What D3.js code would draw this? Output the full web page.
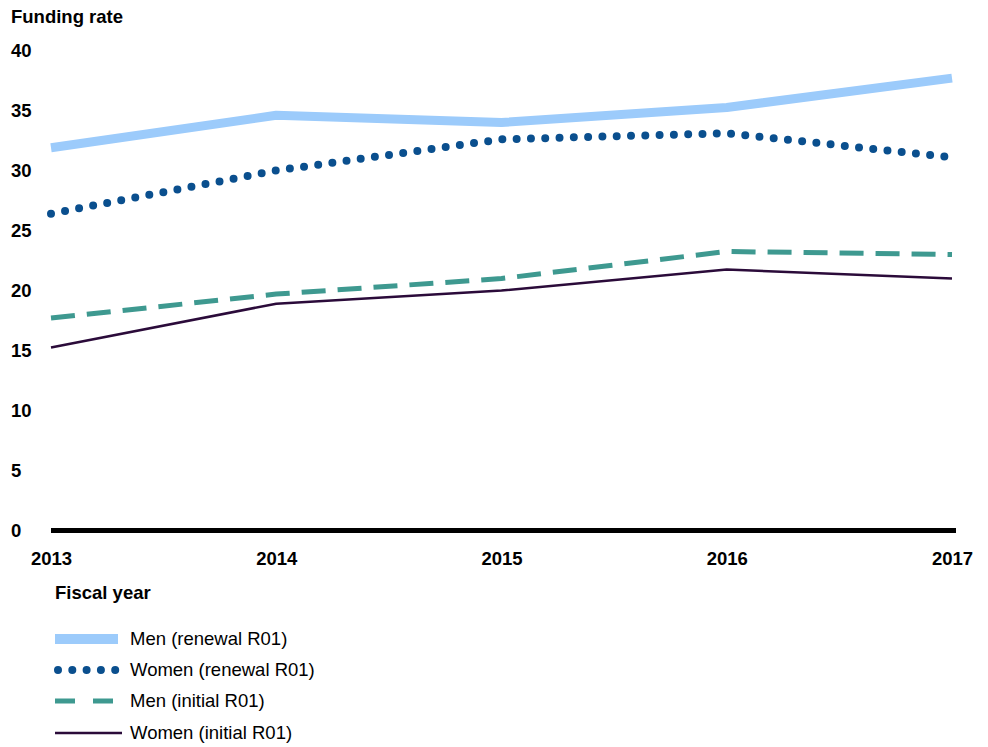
<!DOCTYPE html>
<html>
<head>
<meta charset="utf-8">
<script src="https://cdn.jsdelivr.net/npm/d3@7"></script>
<style>
  body { margin: 0; background: #fff; }
  svg text { font-family: "Liberation Sans", Arial, sans-serif; fill: #000; }
</style>
</head>
<body>
<div id="chart"></div>
<script>
// data
const years = [2013, 2014, 2015, 2016, 2017];
const menRenewal = [31.9, 34.6, 34.0, 35.25, 37.7];
const womenRenewal = [26.4, 30.0, 32.6, 33.1, 31.1];
const menInitial = [17.7, 19.7, 21.0, 23.25, 23.0];
const womenInitial = [15.25, 18.9, 20.0, 21.75, 21.0];
const yTicks = [0, 5, 10, 15, 20, 25, 30, 35, 40];
const seriesNames = ["Men (renewal R01)", "Women (renewal R01)", "Men (initial R01)", "Women (initial R01)"];

const width = 988, height = 747,
    fontSize = "18.5px";

// one style per series, same order as seriesNames
const styles = [
  {color: "#9ccbfb", w: 9, dash: null, cap: "butt"},
  {color: "#0a4f8e", w: 8, dash: "0 14.3", cap: "round"},
  {color: "#3e9990", w: 5, dash: "24 12", cap: "butt"},
  {color: "#2b0b3a", w: 2.5, dash: null, cap: "butt"}
];
const allSeries = [menRenewal, womenRenewal, menInitial, womenInitial];

const svg = d3.select("#chart").append("svg")
    .attr("width", width)
    .attr("height", height);

const x = d3.scaleLinear().domain([2013, 2017]).range([51, 952]);
const y = d3.scaleLinear().domain([0, 40]).range([530.5, 50.5]);

// y tick labels (no gridlines)
svg.append("g")
  .selectAll("text")
  .data(yTicks)
  .enter().append("text")
    .attr("x", 11)
    .attr("y", d => y(d))
    .attr("dy", "0.36em")
    .style("font-size", fontSize)
    .style("font-weight", "bold")
    .text(d => d);

svg.append("text")
    .attr("x", 11)
    .attr("y", 23)
    .style("font-size", fontSize)
    .style("font-weight", "bold")
    .text("Funding rate");

// x axis
const xAxis = d3.axisBottom(x)
    .tickValues(years)
    .tickSize(0)
    .tickPadding(21)
    .tickFormat(d3.format("d"));

const gx = svg.append("g")
    .attr("transform", "translate(0," + y(0) + ")")
    .call(xAxis);
gx.select(".domain").remove();
gx.selectAll("text")
    .style("font-size", fontSize)
    .style("font-weight", "bold")
    .style("font-family", "Liberation Sans, Arial, sans-serif");

svg.append("text")
    .attr("x", 55)
    .attr("y", 599)
    .style("font-size", fontSize)
    .style("font-weight", "bold")
    .text("Fiscal year");

// lines
const line = d3.line()
    .x((d, i) => x(years[i]))
    .y(d => y(d));

svg.append("g")
  .selectAll("path")
  .data(allSeries)
  .enter().append("path")
    .attr("d", line)
    .attr("fill", "none")
    .attr("stroke", (d, i) => styles[i].color)
    .attr("stroke-width", (d, i) => styles[i].w)
    .attr("stroke-dasharray", (d, i) => styles[i].dash)
    .attr("stroke-linecap", (d, i) => styles[i].cap)
    .attr("stroke-linejoin", "round");

// zero baseline
svg.append("line")
    .attr("x1", x(2013))
    .attr("x2", 956)
    .attr("y1", y(0))
    .attr("y2", y(0))
    .attr("stroke", "#000")
    .attr("stroke-width", 5);

// legend
const legendY = [639, 670, 701, 733];
const legend = svg.append("g");
const rows = legend.selectAll("g")
    .data(seriesNames)
    .enter().append("g")
    .attr("transform", (d, i) => "translate(0," + legendY[i] + ")");

rows.append("line")
    .attr("x1", (d, i) => i == 1 ? 58 : 55)
    .attr("x2", (d, i) => i == 1 ? 116 : (i == 3 ? 122 : 118))
    .attr("y1", 0)
    .attr("y2", 0)
    .attr("stroke", (d, i) => styles[i].color)
    .attr("stroke-width", (d, i) => i == 0 ? 10 : styles[i].w)
    .attr("stroke-dasharray", (d, i) => i == 2 ? "20 18" : styles[i].dash)
    .attr("stroke-linecap", (d, i) => styles[i].cap);

rows.append("text")
    .attr("x", 130)
    .attr("y", 0)
    .attr("dy", "0.35em")
    .style("font-size", fontSize)
    .text(d => d);
</script>
</body>
</html>
